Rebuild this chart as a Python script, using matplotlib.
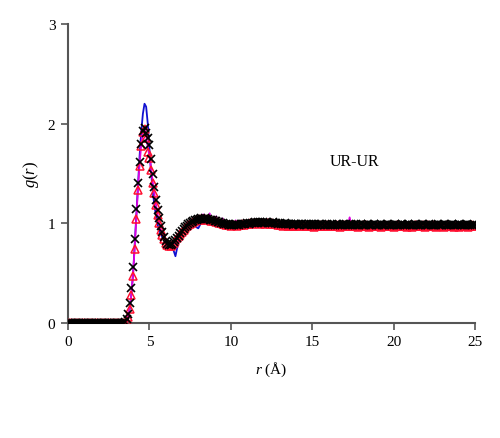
import numpy as np
import matplotlib
matplotlib.use("Agg")
import matplotlib.pyplot as plt

plt.rcParams['font.family'] = ['Liberation Serif', 'DejaVu Serif']
plt.rcParams['mathtext.fontset'] = 'custom'
plt.rcParams['mathtext.it'] = 'Liberation Serif:italic'
plt.rcParams['mathtext.rm'] = 'Liberation Serif'

# r grid step (Angstrom) and tick labels
r_step = 0.1
x_ticks = [0, 5, 10, 15, 20, 25]
y_ticks = [0, 1, 2, 3]
label_text = "UR-UR"

# g(r) values sampled every 0.1 A (rows of 10 = 1 A)
g_blue = [
    0, 0, 0, 0, 0, 0, 0, 0, 0, 0,
    0, 0, 0, 0, 0, 0, 0, 0, 0, 0,
    0, 0, 0, 0, 0, 0, 0, 0, 0, 0,
    0, 0, 0, 0, 0, 0, 0, 0.05, 0.15, 0.30,
    0.50, 0.80, 1.10, 1.40, 1.68, 1.92, 2.10, 2.20, 2.17, 2.00,
    1.75, 1.52, 1.33, 1.19, 1.08, 0.99, 0.93, 0.89, 0.86, 0.83,
    0.80, 0.78, 0.80, 0.78, 0.76, 0.72, 0.67, 0.75, 0.82, 0.87,
    0.90, 0.93, 0.95, 0.97, 1.00, 1.00, 1.02, 1.02, 1.00, 0.96,
    0.95, 0.98, 1.03, 1.05, 1.04, 1.05, 1.03, 1.04, 1.02, 1.03,
    1.01, 1.02, 1.00, 1.01, 0.99, 1.00, 0.99, 0.99, 0.98, 0.99,
    0.99, 0.98, 0.99, 0.99, 0.98, 0.99, 0.99, 1.00, 0.99, 1.00,
    1.00, 0.99, 1.00, 1.01, 1.00, 1.01, 1.00, 1.00, 1.01, 1.00,
    1.01, 1.00, 1.00, 1.00, 0.99, 1.00, 1.00, 0.99, 1.00, 0.99,
    0.99, 1.00, 0.99, 0.99, 0.99, 0.98, 0.99, 0.99, 0.98, 0.99,
    0.99, 0.98, 0.99, 0.99, 0.98, 0.99, 0.98, 0.99, 0.99, 0.98,
    0.99, 0.98, 0.99, 0.98, 0.99, 0.99, 0.98, 0.99, 0.98, 0.99,
    0.98, 0.99, 0.99, 0.98, 0.99, 0.98, 0.99, 0.98, 0.99, 0.98,
    0.99, 0.98, 0.99, 0.98, 0.99, 0.98, 0.99, 0.98, 0.98, 0.99,
    0.98, 0.99, 0.98, 0.99, 0.98, 0.98, 0.99, 0.98, 0.99, 0.98,
    0.98, 0.99, 0.98, 0.98, 0.99, 0.98, 0.98, 0.99, 0.98, 0.98,
    0.99, 0.98, 0.98, 0.99, 0.98, 0.98, 0.98, 0.99, 0.98, 0.98,
    0.98, 0.99, 0.98, 0.98, 0.98, 0.99, 0.98, 0.98, 0.99, 0.98,
    0.98, 0.98, 0.99, 0.98, 0.98, 0.98, 0.99, 0.98, 0.98, 0.98,
    0.99, 0.98, 0.98, 0.98, 0.99, 0.98, 0.98, 0.98, 0.98, 0.99,
    0.98, 0.98, 0.98, 0.99, 0.98, 0.98, 0.98, 0.98, 0.99, 0.98,
    0.98,
]

g_magenta = [
    0, 0, 0, 0, 0, 0, 0, 0, 0, 0,
    0, 0, 0, 0, 0, 0, 0, 0, 0, 0,
    0, 0, 0, 0, 0, 0, 0, 0, 0, 0,
    0, 0, 0, 0, 0, 0.01, 0.03, 0.07, 0.16, 0.30,
    0.50, 0.77, 1.06, 1.35, 1.60, 1.79, 1.92, 1.96, 1.88, 1.76,
    1.68, 1.55, 1.42, 1.30, 1.19, 1.09, 1.01, 0.94, 0.89, 0.85,
    0.81, 0.79, 0.77, 0.78, 0.78, 0.80, 0.83, 0.85, 0.87, 0.90,
    0.91, 0.94, 0.95, 0.97, 0.99, 1.00, 1.01, 1.01, 1.03, 1.02,
    1.04, 1.03, 1.05, 1.09, 1.03, 1.06, 1.04, 1.10, 1.02, 1.04,
    1.02, 1.07, 1.01, 1.02, 1.00, 1.05, 0.99, 0.99, 1.00, 0.98,
    0.98, 0.99, 0.98, 1.03, 0.98, 0.99, 0.98, 1.00, 0.99, 0.99,
    1.00, 0.99, 1.01, 1.00, 1.02, 1.00, 1.00, 1.02, 0.99, 1.00,
    1.01, 0.99, 1.04, 1.00, 0.99, 1.01, 1.00, 0.99, 1.00, 0.98,
    0.99, 0.98, 0.99, 1.00, 0.98, 0.98, 0.99, 0.98, 0.98, 0.99,
    0.98, 0.98, 0.99, 0.98, 0.97, 0.98, 0.98, 0.99, 0.98, 0.98,
    0.98, 0.97, 0.98, 0.98, 0.99, 0.98, 0.98, 0.97, 0.98, 0.98,
    0.98, 0.99, 0.97, 0.98, 0.98, 0.98, 0.99, 0.98, 0.97, 0.98,
    0.98, 0.98, 0.98, 1.06, 0.98, 0.98, 0.97, 0.98, 0.98, 0.99,
    0.98, 0.97, 0.98, 0.98, 0.98, 0.99, 0.98, 0.97, 0.98, 0.98,
    0.98, 0.98, 0.97, 0.98, 0.99, 0.98, 0.98, 0.98, 0.97, 0.98,
    0.98, 0.98, 0.98, 0.97, 0.98, 0.98, 0.99, 0.98, 0.98, 0.97,
    0.98, 0.98, 0.98, 0.98, 0.97, 0.98, 0.98, 0.98, 0.99, 0.98,
    0.97, 0.98, 0.98, 0.98, 0.98, 0.97, 0.98, 0.98, 0.98, 0.98,
    0.98, 0.97, 0.98, 0.98, 0.98, 0.98, 0.97, 0.98, 0.98, 0.98,
    0.98, 0.98, 0.97, 0.98, 0.98, 0.98, 0.98, 0.97, 0.98, 0.98,
    0.98,
]

g_red = [
    0, 0, 0, 0, 0, 0, 0, 0, 0, 0,
    0, 0, 0, 0, 0, 0, 0, 0, 0, 0,
    0, 0, 0, 0, 0, 0, 0, 0, 0, 0,
    0, 0, 0, 0, 0, 0.00, 0.02, 0.06, 0.14, 0.28,
    0.47, 0.74, 1.04, 1.33, 1.58, 1.78, 1.92, 1.95, 1.86, 1.72,
    1.66, 1.54, 1.40, 1.30, 1.18, 1.08, 1.00, 0.93, 0.88, 0.84,
    0.80, 0.78, 0.77, 0.77, 0.78, 0.80, 0.82, 0.85, 0.87, 0.89,
    0.91, 0.93, 0.95, 0.97, 0.98, 0.99, 1.00, 1.01, 1.02, 1.03,
    1.03, 1.04, 1.03, 1.04, 1.04, 1.03, 1.04, 1.03, 1.02, 1.02,
    1.02, 1.01, 1.01, 1.00, 1.00, 0.99, 0.99, 0.98, 0.98, 0.98,
    0.97, 0.98, 0.98, 0.98, 0.97, 0.98, 0.98, 0.99, 0.98, 0.99,
    0.99, 0.99, 1.00, 0.99, 1.00, 1.00, 1.00, 1.00, 0.99, 1.00,
    1.00, 0.99, 1.00, 1.00, 0.99, 1.00, 0.99, 0.99, 0.99, 0.98,
    0.98, 0.98, 0.97, 0.98, 0.98, 0.97, 0.98, 0.97, 0.98, 0.97,
    0.97, 0.98, 0.97, 0.98, 0.98, 0.97, 0.97, 0.97, 0.98, 0.97,
    0.97, 0.96, 0.97, 0.98, 0.97, 0.98, 0.97, 0.97, 0.97, 0.98,
    0.97, 0.98, 0.97, 0.97, 0.97, 0.98, 0.97, 0.96, 0.97, 0.98,
    0.98, 0.97, 0.97, 0.97, 0.98, 0.97, 0.98, 0.97, 0.96, 0.97,
    0.97, 0.98, 0.97, 0.98, 0.97, 0.96, 0.97, 0.98, 0.97, 0.97,
    0.97, 0.97, 0.96, 0.97, 0.98, 0.98, 0.97, 0.97, 0.97, 0.97,
    0.96, 0.97, 0.98, 0.98, 0.97, 0.97, 0.97, 0.98, 0.96, 0.97,
    0.97, 0.96, 0.97, 0.98, 0.98, 0.97, 0.97, 0.97, 0.98, 0.96,
    0.97, 0.98, 0.97, 0.97, 0.97, 0.98, 0.96, 0.97, 0.97, 0.97,
    0.97, 0.96, 0.97, 0.98, 0.97, 0.97, 0.97, 0.96, 0.97, 0.97,
    0.96, 0.97, 0.97, 0.97, 0.97, 0.97, 0.96, 0.97, 0.98, 0.97,
    0.97,
]

g_black = [
    0, 0, 0, 0, 0, 0, 0, 0, 0, 0,
    0, 0, 0, 0, 0, 0, 0, 0, 0, 0,
    0, 0, 0, 0, 0, 0, 0, 0, 0, 0,
    0, 0, 0, 0, 0, 0.01, 0.04, 0.09, 0.20, 0.35,
    0.56, 0.84, 1.14, 1.40, 1.62, 1.80, 1.93, 1.96, 1.91, 1.86,
    1.79, 1.65, 1.50, 1.36, 1.23, 1.13, 1.05, 0.97, 0.91, 0.86,
    0.82, 0.79, 0.78, 0.78, 0.79, 0.81, 0.83, 0.85, 0.87, 0.90,
    0.92, 0.94, 0.96, 0.97, 0.99, 1.00, 1.01, 1.02, 1.03, 1.03,
    1.04, 1.04, 1.05, 1.04, 1.05, 1.04, 1.04, 1.03, 1.03, 1.03,
    1.02, 1.02, 1.01, 1.01, 1.00, 1.00, 0.99, 0.99, 0.99, 0.98,
    0.98, 0.98, 0.98, 0.99, 0.98, 0.98, 0.99, 0.99, 0.99, 0.99,
    1.00, 0.99, 1.00, 1.00, 1.00, 1.01, 1.00, 1.01, 1.01, 1.00,
    1.01, 1.00, 1.01, 1.00, 1.00, 1.00, 1.01, 1.00, 1.00, 0.99,
    1.00, 0.99, 0.99, 1.00, 0.99, 0.99, 0.99, 0.99, 0.98, 0.99,
    0.99, 0.99, 0.98, 0.99, 0.99, 0.98, 0.99, 0.98, 0.99, 0.99,
    0.98, 0.99, 0.98, 0.98, 0.99, 0.98, 0.99, 0.98, 0.98, 0.99,
    0.98, 0.98, 0.99, 0.98, 0.98, 0.99, 0.98, 0.98, 0.98, 0.99,
    0.98, 0.99, 0.98, 0.98, 0.99, 0.98, 0.98, 0.99, 0.98, 0.98,
    0.99, 0.98, 0.98, 0.98, 0.99, 0.98, 0.98, 0.98, 0.99, 0.98,
    0.98, 0.98, 0.99, 0.98, 0.98, 0.98, 0.99, 0.98, 0.98, 0.98,
    0.98, 0.99, 0.98, 0.98, 0.98, 0.99, 0.98, 0.98, 0.98, 0.99,
    0.98, 0.98, 0.98, 0.99, 0.98, 0.98, 0.98, 0.98, 0.99, 0.98,
    0.98, 0.98, 0.99, 0.98, 0.98, 0.98, 0.98, 0.99, 0.98, 0.98,
    0.98, 0.99, 0.98, 0.98, 0.98, 0.98, 0.99, 0.98, 0.98, 0.98,
    0.99, 0.98, 0.98, 0.98, 0.98, 0.99, 0.98, 0.98, 0.98, 0.98,
    0.98,
]


def r_of(g):
    return np.arange(len(g)) * r_step


fig = plt.figure(figsize=(5.0, 4.39), dpi=100)
ax = fig.add_axes([0.136, 0.262, 0.814, 0.681])

ax.plot(r_of(g_blue), g_blue, color='#1010d0', lw=1.3, zorder=2)
ax.plot(r_of(g_magenta), g_magenta, color='#e000e0', lw=1.3, zorder=3)
ax.plot(r_of(g_red), g_red, linestyle='none', marker='^', ms=5.5,
        mfc='none', mec='#ff1030', mew=1.1, zorder=4)
ax.plot(r_of(g_black), g_black, linestyle='none', marker='x', ms=5.5,
        color='black', mew=1.2, zorder=5)

ax.set_xlim(0, 25)
ax.set_ylim(0, 3)
ax.set_xticks(x_ticks)
ax.set_yticks(y_ticks)
for s in ['top', 'right']:
    ax.spines[s].set_visible(False)
for s in ['left', 'bottom']:
    ax.spines[s].set_color('#555555')
    ax.spines[s].set_linewidth(1.5)
ax.tick_params(direction='out', length=5, width=1.2, color='#555555',
               labelsize=11, pad=4)

ax.set_xlabel(r'$r$ (Å)', fontsize=11, labelpad=8)
ax.set_ylabel(r'$g(r)$', fontsize=12, labelpad=5)
ax.text(16.1, 1.63, label_text, fontsize=11.5, va='center', ha='left')

fig.savefig('out.png', dpi=100)
